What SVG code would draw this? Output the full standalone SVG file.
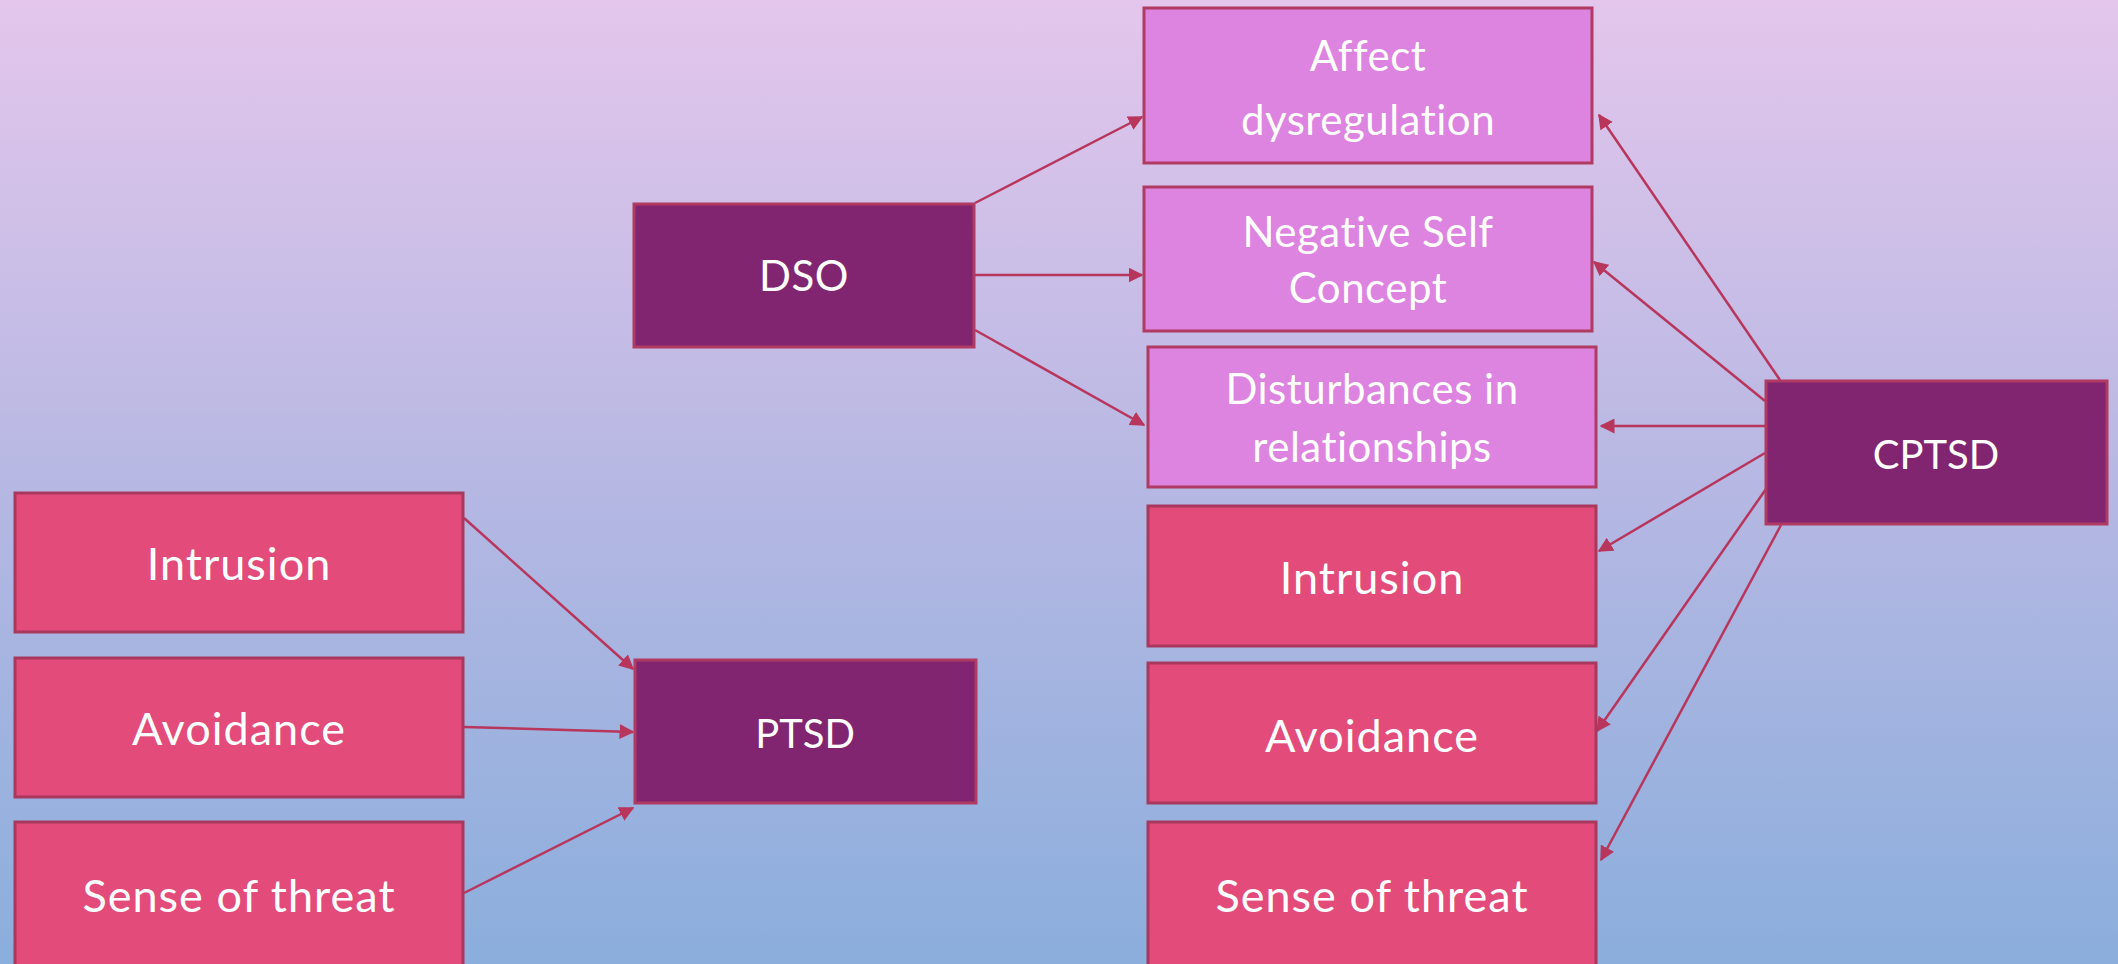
<svg xmlns="http://www.w3.org/2000/svg" width="2118" height="964" viewBox="0 0 2118 964">
  <defs>
    <linearGradient id="bg" x1="0" y1="0" x2="0" y2="1">
      <stop offset="0" stop-color="#E4C6EC"/>
      <stop offset="0.5" stop-color="#B6B8E3"/>
      <stop offset="1" stop-color="#8BAEDC"/>
    </linearGradient>
    <marker id="arrow" viewBox="0 0 10 10" refX="9" refY="5" markerWidth="6" markerHeight="6" markerUnits="strokeWidth" orient="auto">
      <path d="M0,0 L10,5 L0,10 z" fill="#B8355C"/>
    </marker>
    <style>
      .dso-item { fill: #DC84E0; stroke: #B03A62; stroke-width: 3; }
      .core { fill: #822571; stroke: #B03A62; stroke-width: 3; }
      .symptom { fill: #E24B7A; stroke: #A8385E; stroke-width: 3; }
      .label { fill: #FFFFFF; font-family: "Lato", "Open Sans", sans-serif; text-anchor: middle; font-variant-ligatures: none; }
      .big { font-size: 45px; letter-spacing: 1px; }
      .mid { font-size: 42px; letter-spacing: 0.5px; }
      .core-label { font-size: 40px; }
      .edge { fill: none; stroke: #B8355C; stroke-width: 2.5; marker-end: url(#arrow); }
    </style>
  </defs>

  <rect x="0" y="0" width="2118" height="964" fill="url(#bg)"/>

  <!-- connectors -->
  <g id="connectors">
    <line class="edge" x1="975" y1="203" x2="1142" y2="117"/>
    <line class="edge" x1="975" y1="275" x2="1142" y2="275"/>
    <line class="edge" x1="975" y1="330" x2="1144" y2="425"/>
    <line class="edge" x1="1780" y1="380" x2="1599" y2="115"/>
    <line class="edge" x1="1765" y1="401" x2="1594" y2="262"/>
    <line class="edge" x1="1766" y1="426" x2="1601" y2="426"/>
    <line class="edge" x1="1765" y1="453" x2="1599" y2="551"/>
    <line class="edge" x1="1773" y1="479" x2="1597" y2="731"/>
    <line class="edge" x1="1781" y1="525" x2="1601" y2="860"/>
    <line class="edge" x1="464" y1="518" x2="633" y2="669"/>
    <line class="edge" x1="464" y1="727" x2="633" y2="732"/>
    <line class="edge" x1="464" y1="893" x2="633" y2="808"/>
  </g>

  <!-- disturbances in self-organisation -->
  <g id="dso">
    <rect class="core" x="634" y="204" width="340" height="143"/>
    <text class="label mid" x="804" y="291">DSO</text>
  </g>
  <g id="affect-dysregulation">
    <rect class="dso-item" x="1144" y="8" width="448" height="155"/>
    <text class="label mid" x="1368" y="71">Affect</text>
    <text class="label mid" x="1368" y="135">dysregulation</text>
  </g>
  <g id="negative-self-concept">
    <rect class="dso-item" x="1144" y="187" width="448" height="144"/>
    <text class="label mid" x="1368" y="247">Negative Self</text>
    <text class="label mid" x="1368" y="303">Concept</text>
  </g>
  <g id="disturbances-in-relationships">
    <rect class="dso-item" x="1148" y="347" width="448" height="140"/>
    <text class="label mid" x="1372" y="404">Disturbances in</text>
    <text class="label mid" x="1372" y="462">relationships</text>
  </g>

  <!-- complex PTSD -->
  <g id="cptsd">
    <rect class="core" x="1766" y="381" width="341" height="143"/>
    <text class="label core-label" x="1936" y="469">CPTSD</text>
  </g>
  <g id="cptsd-intrusion">
    <rect class="symptom" x="1148" y="506" width="448" height="140"/>
    <text class="label big" x="1372" y="594">Intrusion</text>
  </g>
  <g id="cptsd-avoidance">
    <rect class="symptom" x="1148" y="663" width="448" height="140"/>
    <text class="label big" x="1372" y="752">Avoidance</text>
  </g>
  <g id="cptsd-sense-of-threat">
    <rect class="symptom" x="1148" y="822" width="448" height="160"/>
    <text class="label big" x="1372" y="912">Sense of threat</text>
  </g>

  <!-- PTSD -->
  <g id="ptsd">
    <rect class="core" x="635" y="660" width="341" height="143"/>
    <text class="label core-label" x="805" y="748">PTSD</text>
  </g>
  <g id="ptsd-intrusion">
    <rect class="symptom" x="15" y="493" width="448" height="139"/>
    <text class="label big" x="239" y="580">Intrusion</text>
  </g>
  <g id="ptsd-avoidance">
    <rect class="symptom" x="15" y="658" width="448" height="139"/>
    <text class="label big" x="239" y="745">Avoidance</text>
  </g>
  <g id="ptsd-sense-of-threat">
    <rect class="symptom" x="15" y="822" width="448" height="160"/>
    <text class="label big" x="239" y="912">Sense of threat</text>
  </g>
</svg>
